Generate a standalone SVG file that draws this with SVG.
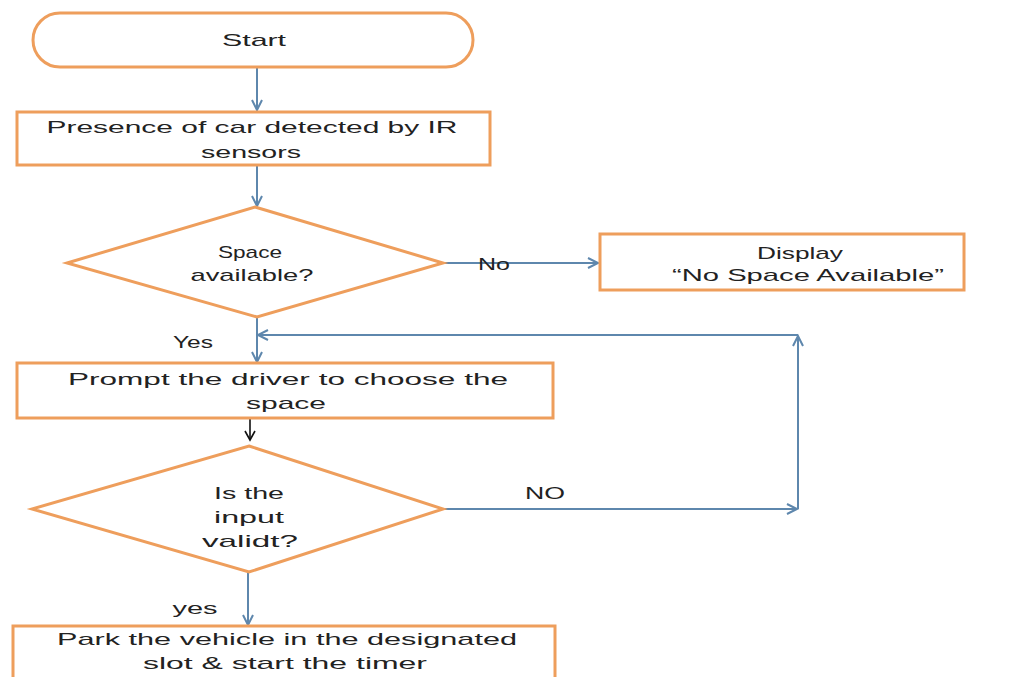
<svg xmlns="http://www.w3.org/2000/svg" width="1026" height="677" viewBox="0 0 1026 677">
<style>
.node{fill:#fff;stroke:#EE9E5C;stroke-width:3}
.t{font-family:"Liberation Sans",Arial,sans-serif;font-size:17px;fill:#222;text-anchor:middle}
.lbl{font-family:"Liberation Sans",Arial,sans-serif;font-size:17px;fill:#222;text-anchor:middle}
.c{fill:none;stroke:#5E87AD;stroke-width:2}
.k{fill:none;stroke:#111;stroke-width:1.6}
</style>
<defs>
<marker id="a" markerUnits="userSpaceOnUse" markerWidth="14" markerHeight="14" refX="11" refY="6" orient="auto">
<path d="M1,1 L11,6 L1,11" fill="none" stroke="#5E87AD" stroke-width="2"/>
</marker>
<marker id="ak" markerUnits="userSpaceOnUse" markerWidth="14" markerHeight="14" refX="11" refY="6" orient="auto">
<path d="M2,1 L11,6 L2,11" fill="none" stroke="#111" stroke-width="1.6"/>
</marker>
</defs>
<rect width="1026" height="677" fill="#fff"/>
<g id="connectors">
<path class="c" d="M257,67 V110" marker-end="url(#a)"/>
<path class="c" d="M257,165 V206" marker-end="url(#a)"/>
<path class="c" d="M443,263 H598" marker-end="url(#a)"/>
<path class="c" d="M257,317 V362" marker-end="url(#a)"/>
<path class="k" d="M250,418 V440" marker-end="url(#ak)"/>
<path class="c" d="M248,572 V625" marker-end="url(#a)"/>
<path class="c" d="M443,509 H797" marker-end="url(#a)"/>
<path class="c" d="M798,509 V336" marker-end="url(#a)"/>
<path class="c" d="M798,335 H258" marker-end="url(#a)"/>
<text class="lbl" x="494" y="270" textLength="32" lengthAdjust="spacingAndGlyphs">No</text>
<text class="lbl" x="193" y="348" textLength="40" lengthAdjust="spacingAndGlyphs">Yes</text>
<text class="lbl" x="545" y="499" textLength="40" lengthAdjust="spacingAndGlyphs">NO</text>
<text class="lbl" x="195" y="614" textLength="45" lengthAdjust="spacingAndGlyphs">yes</text>
</g>
<g id="start">
<rect class="node" x="33" y="13" width="440" height="54" rx="27" ry="27"/>
<text class="t" x="254" y="46" textLength="64" lengthAdjust="spacingAndGlyphs">Start</text>
</g>
<g id="detect">
<rect class="node" x="17" y="112" width="473" height="53"/>
<text class="t" x="252" y="133" textLength="411" lengthAdjust="spacingAndGlyphs">Presence of car detected by IR</text>
<text class="t" x="251" y="158" textLength="100" lengthAdjust="spacingAndGlyphs">sensors</text>
</g>
<g id="space-available">
<polygon class="node" points="255,207 443,263 257,317 67,263"/>
<text class="t" x="250" y="258" textLength="64" lengthAdjust="spacingAndGlyphs">Space</text>
<text class="t" x="252" y="281" textLength="123" lengthAdjust="spacingAndGlyphs">available?</text>
</g>
<g id="no-space">
<rect class="node" x="600" y="234" width="364" height="56"/>
<text class="t" x="800" y="259" textLength="86" lengthAdjust="spacingAndGlyphs">Display</text>
<text class="t" x="808" y="281" textLength="272" lengthAdjust="spacingAndGlyphs">“No Space Available”</text>
</g>
<g id="prompt">
<rect class="node" x="17" y="363" width="536" height="55"/>
<text class="t" x="288" y="385" textLength="440" lengthAdjust="spacingAndGlyphs">Prompt the driver to choose the</text>
<text class="t" x="286" y="409" textLength="80" lengthAdjust="spacingAndGlyphs">space</text>
</g>
<g id="input-valid">
<polygon class="node" points="249,446 443,509 249,572 32,509"/>
<text class="t" x="249" y="499" textLength="70" lengthAdjust="spacingAndGlyphs">Is the</text>
<text class="t" x="249" y="523" textLength="70" lengthAdjust="spacingAndGlyphs">input</text>
<text class="t" x="250" y="547" textLength="96" lengthAdjust="spacingAndGlyphs">validt?</text>
</g>
<g id="park">
<rect class="node" x="13" y="626" width="542" height="70"/>
<text class="t" x="287" y="645" textLength="460" lengthAdjust="spacingAndGlyphs">Park the vehicle in the designated</text>
<text class="t" x="285" y="669" textLength="284" lengthAdjust="spacingAndGlyphs">slot &amp; start the timer</text>
</g>
</svg>
